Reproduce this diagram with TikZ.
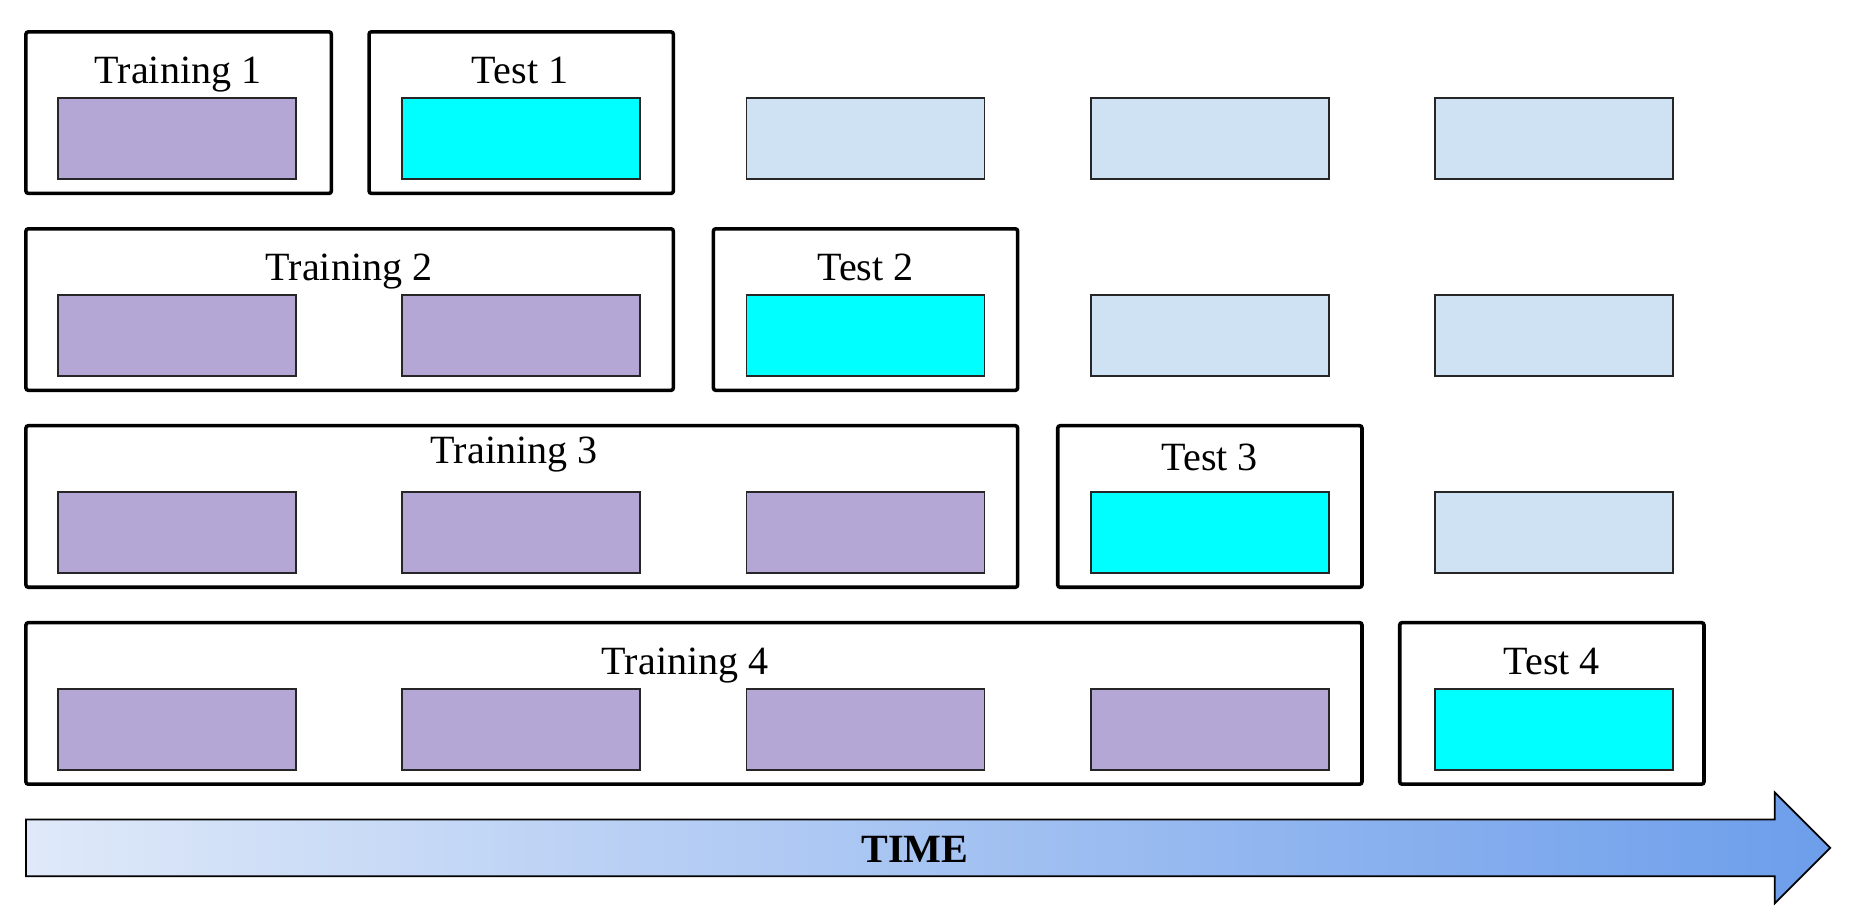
\documentclass[tikz,border=0pt]{standalone}
\usepackage{fontspec}
\setmainfont{Liberation Serif}
\usetikzlibrary{fit}
\definecolor{trainfill}{HTML}{B4A7D6}
\definecolor{testfill}{HTML}{00FFFF}
\definecolor{futfill}{HTML}{CFE2F3}
\definecolor{arrL}{HTML}{DFE9F9}
\definecolor{arrR}{HTML}{6D9EEB}
\begin{document}
\begin{tikzpicture}[x=0.5pt,y=-0.5pt,
  outerbox/.style={draw=black, line width=1.5pt, rounded corners=1pt, inner sep=0pt},
  cell/.style={draw=black!85, line width=0.7pt, inner sep=0pt},
  traincell/.style={cell, fill=trainfill},
  testcell/.style={cell, fill=testfill},
  futcell/.style={cell, fill=futfill},
  lbl/.style={font=\fontsize{17}{20}\selectfont, inner sep=0pt, anchor=base},
  timelbl/.style={font=\fontsize{17}{20}\selectfont\bfseries, inner sep=0pt}
]
\useasboundingbox (0,0) rectangle (1568,778);
% cells
\foreach \r in {0,...,3}{
  \foreach \k in {0,...,4}{
    \pgfmathtruncatemacro{\xa}{49+292*\k}
    \pgfmathtruncatemacro{\xb}{251+292*\k}
    \pgfmathtruncatemacro{\ya}{83+167*\r}
    \pgfmathtruncatemacro{\yb}{152+167*\r}
    \pgfmathtruncatemacro{\kind}{\k<=\r ? 0 : (\k==\r+1 ? 1 : 2)}
    \ifcase\kind
      \node[traincell, fit={(\xa,\ya) (\xb,\yb)}] (cell-\r-\k) {};
    \or
      \node[testcell, fit={(\xa,\ya) (\xb,\yb)}] (cell-\r-\k) {};
    \else
      \node[futcell, fit={(\xa,\ya) (\xb,\yb)}] (cell-\r-\k) {};
    \fi
  }
}
% outer boxes
\foreach \r/\tr/\ts/\te in {0/281/313/571, 1/571/605/863, 2/863/897/1155, 3/1155/1187/1445}{
  \pgfmathtruncatemacro{\ya}{27+167*\r}
  \pgfmathtruncatemacro{\yb}{164+167*\r}
  \node[outerbox, fit={(22,\ya) (\tr,\yb)}] (train\r) {};
  \node[outerbox, fit={(\ts,\ya) (\te,\yb)}] (test\r) {};
}
% labels
\node[lbl] (ltrain0) at (151,71) {Training 1};
\node[lbl] (ltest0) at (441,71) {Test 1};
\node[lbl] (ltrain1) at (296,238) {Training 2};
\node[lbl] (ltest1) at (734,238) {Test 2};
\node[lbl] (ltrain2) at (436,393) {Training 3};
\node[lbl] (ltest2) at (1026,399) {Test 3};
\node[lbl] (ltrain3) at (581,572) {Training 4};
\node[lbl] (ltest3) at (1316,572) {Test 4};
% time arrow
\path[draw=black, line width=0.75pt, left color=arrL, right color=arrR, line join=miter]
  (22,695) -- (1505,695) -- (1505,672) -- (1552,719) -- (1505,766) -- (1505,743) -- (22,743) -- cycle;
\node[timelbl] (time) at (776,720) {TIME};
\end{tikzpicture}
\end{document}
